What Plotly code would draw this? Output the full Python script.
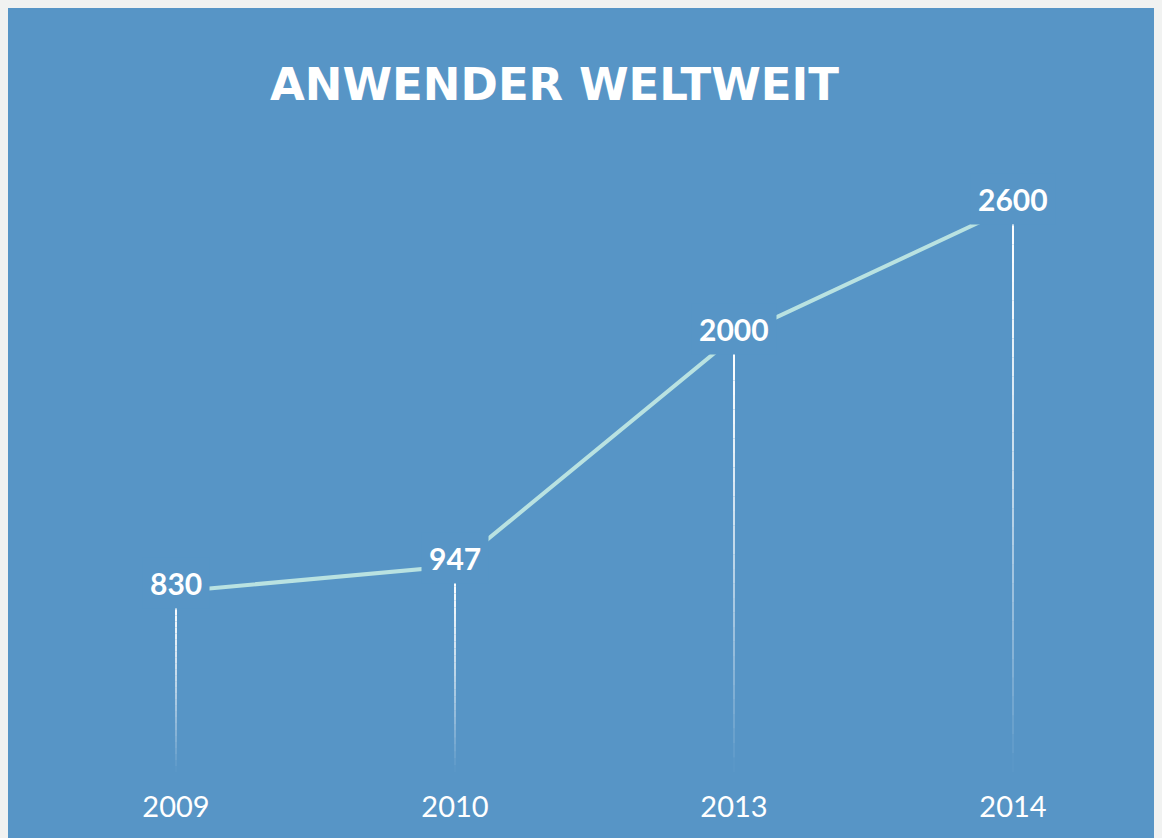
import plotly.graph_objects as go

# ---- data ----
years = ["2009", "2010", "2013", "2014"]
users = [830, 947, 2000, 2600]
title_text = "ANWENDER WELTWEIT"

# ---- style ----
W, H = 1175, 838
BLUE = "#5795C6"
LINE = "#B9E2E1"
STEP = 279.0       # px between categories
X0PX = 168.0       # px of first category inside the figure

xpos = list(range(len(years)))

fig = go.Figure()

# fading drop lines (white at top, transparent at bottom)
N = 30
for k in range(N):
    t0, t1 = k / N, (k + 1) / N
    alpha = max(0.0, 1 - ((t0 + t1) / 2) ** 1.4)
    xs, ys = [], []
    for xi, v in zip(xpos, users):
        xs += [xi, xi, None]
        ys += [v * (1 - t0), v * (1 - t1), None]
    fig.add_trace(go.Scatter(
        x=xs, y=ys, mode="lines",
        line=dict(color=f"rgba(255,255,255,{alpha:.3f})", width=2),
        hoverinfo="skip", showlegend=False))

# main line
fig.add_trace(go.Scatter(
    x=xpos, y=users, mode="lines",
    line=dict(color=LINE, width=4),
    hoverinfo="skip", showlegend=False))

# value labels with background boxes that interrupt the lines
for xi, v in zip(xpos, users):
    fig.add_annotation(
        x=xi, y=v, xref="x", yref="y", text=f"<b>{v}</b>",
        showarrow=False, xanchor="center", yanchor="middle",
        font=dict(family="Lato", size=30, color="white"),
        bgcolor=BLUE, borderpad=7, yshift=8)

# title
fig.add_annotation(
    x=546 / W, y=1 - 76 / H, xref="paper", yref="paper",
    text=f"<b>{title_text}</b>", showarrow=False,
    xanchor="center", yanchor="middle",
    font=dict(family="DejaVu Sans", size=45, color="white"))

x0 = -X0PX / STEP
fig.update_layout(
    width=W, height=H,
    margin=dict(l=0, r=0, t=0, b=0),
    paper_bgcolor=BLUE, plot_bgcolor="rgba(0,0,0,0)",
    xaxis=dict(range=[x0, x0 + W / STEP], tickmode="array",
               tickvals=xpos, ticktext=years,
               showgrid=False, zeroline=False, showline=False,
               ticks="", ticklabelstandoff=15,
               tickfont=dict(family="Lato", size=29, color="white"),
               fixedrange=True),
    yaxis=dict(domain=[74 / H, 1], range=[0, 3513],
               showgrid=False, zeroline=False, showline=False,
               showticklabels=False, ticks="", fixedrange=True),
    showlegend=False,
)

page_js = (
    "document.documentElement.style.overflow='hidden';"
    "document.body.style.overflow='hidden';"
    "document.body.style.background='#F1F2F1';"
    "var d=document.getElementById('{plot_id}');"
    "d.style.boxShadow='-1px -1px 0 #CFCFCF';"
)

fig.write_html("out.html", config={"displayModeBar": False},
               post_script=page_js)
